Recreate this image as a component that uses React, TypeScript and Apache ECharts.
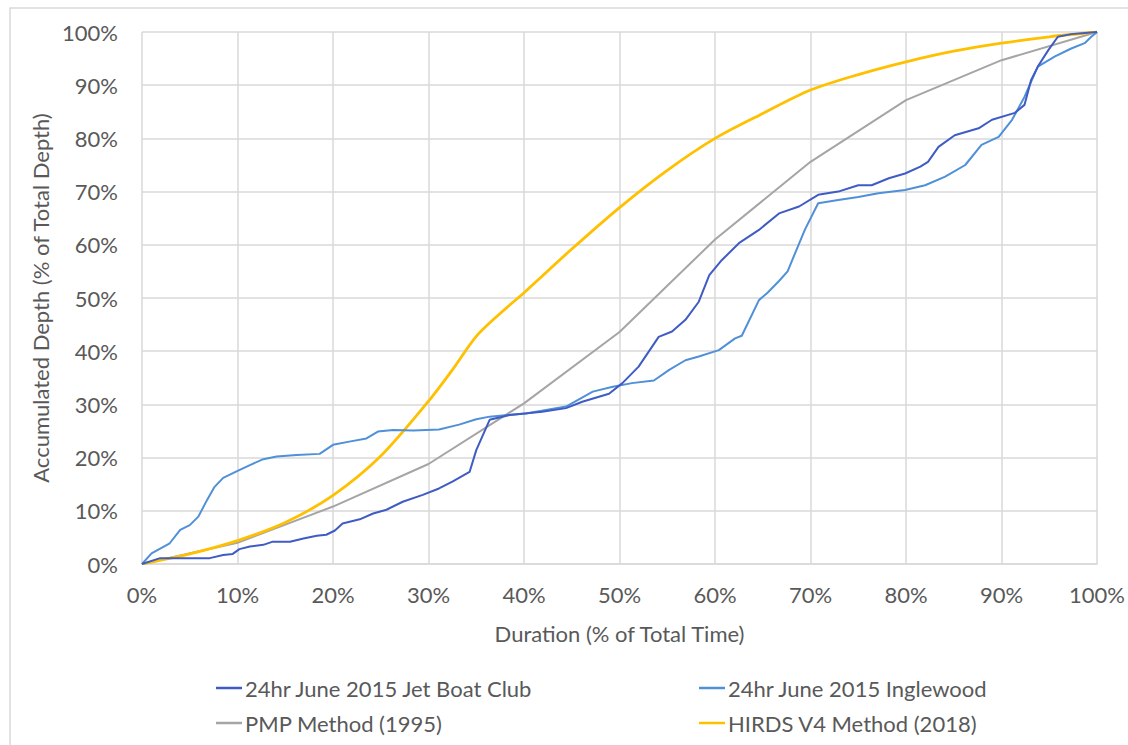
import React, { useEffect, useRef } from "react";
import * as echarts from "echarts";

const xTicks = [0, 10, 20, 30, 40, 50, 60, 70, 80, 90, 100];

const seriesNames = [
  "24hr June 2015 Jet Boat Club",
  "24hr June 2015 Inglewood",
  "PMP Method (1995)",
  "HIRDS V4 Method (2018)",
];

const jetBoatClub: [number, number][] = [
  [0, 0], [1.9, 1.1], [5, 1.1], [7.1, 1.1], [8.5, 1.7], [9.5, 1.9], [10.2, 2.8], [11.3, 3.3],
  [12.7, 3.6], [13.7, 4.2], [15.5, 4.2], [16.9, 4.8], [18.3, 5.3], [19.3, 5.5], [20.2, 6.3],
  [21, 7.6], [22.8, 8.4], [24.2, 9.5], [25.6, 10.2], [27.3, 11.7], [29.4, 13], [31.1, 14.2],
  [32.5, 15.5], [34.3, 17.3], [35, 21.4], [36.4, 27.1], [38.5, 28], [41.9, 28.6], [44.4, 29.3],
  [46.1, 30.5], [48.9, 32], [50.3, 34], [52, 37.1], [54.1, 42.7], [55.5, 43.7], [56.9, 45.9],
  [58.3, 49.3], [59.4, 54.3], [60.7, 57.1], [62.5, 60.3], [64.6, 62.8], [66.7, 65.9],
  [68.8, 67.2], [70.8, 69.4], [72.9, 70], [75, 71.2], [76.4, 71.2], [78.2, 72.5], [79.9, 73.4],
  [81.5, 74.7], [82.3, 75.6], [83.4, 78.4], [85.1, 80.6], [87.6, 81.9], [89, 83.5],
  [91.4, 84.8], [92.4, 86.3], [93.1, 91], [93.8, 93.5], [94.9, 96.6], [95.9, 99.1],
  [97.3, 99.6], [100, 100],
];

const inglewood: [number, number][] = [
  [0, 0], [1, 2], [2.9, 3.9], [4, 6.4], [5, 7.3], [5.9, 8.9], [6.8, 12], [7.6, 14.5],
  [8.5, 16.2], [9.9, 17.4], [11.3, 18.6], [12.7, 19.7], [14.1, 20.2], [16.2, 20.5],
  [18.6, 20.7], [20, 22.4], [21.7, 23], [23.5, 23.6], [24.7, 24.9], [26.3, 25.2],
  [28.4, 25.1], [31.1, 25.3], [33.2, 26.2], [35, 27.2], [36.4, 27.7], [40.2, 28.3],
  [44.4, 29.6], [47.2, 32.4], [49.3, 33.3], [51.3, 34], [53.6, 34.5], [55.2, 36.5],
  [56.9, 38.3], [58.3, 39], [60.4, 40.2], [62.1, 42.4], [62.8, 42.9], [64.6, 49.6],
  [65.5, 51], [66.7, 53.2], [67.6, 55], [68.4, 58.5], [69.4, 62.8], [70.8, 67.8],
  [72.9, 68.4], [75, 69], [77.1, 69.7], [79.9, 70.3], [82, 71.2], [84.1, 72.8], [86.2, 75],
  [87.9, 78.8], [89.7, 80.3], [91.1, 83.5], [92.4, 87.8], [93.8, 93.5], [95.6, 95.4],
  [97.3, 96.9], [98.7, 97.9], [99.4, 99.1], [100, 100],
];

const pmpMethod: [number, number][] = [
  [0, 0], [10, 4], [20, 10.8], [30, 18.8], [40, 30.2], [50, 43.6], [60, 61], [70, 75.6],
  [80, 87.2], [90, 94.7], [100, 100],
];

const hirdsMethod: [number, number][] = [
  [0, 0], [5, 1.9], [10, 4.4], [15, 7.8], [20, 12.9], [25, 20.3], [30, 30.6], [32.5, 36.5],
  [35, 42.8], [37.5, 47.1], [40, 51.0], [45, 59.2], [50, 67], [55, 74], [60, 80],
  [65, 84.7], [70, 89.1], [75, 92], [80, 94.4], [85, 96.4], [90, 97.9], [95, 99.1], [100, 100],
];

const colors = ["#3F5BC4", "#4F90D8", "#A5A5A5", "#FFC000"];

const FONT = "Lato, 'Open Sans', sans-serif";
const TEXT = "#595959";
const GRID = "#D9D9D9";

export default function App() {
  const ref = useRef<HTMLDivElement>(null);

  useEffect(() => {
    document.body.style.margin = "0";
    const chart = echarts.init(ref.current!, undefined, { renderer: "svg" });

    const legendItem = (name: string, left: number, top: number) => ({
      data: [name],
      left,
      top,
      orient: "horizontal",
      icon: "rect",
      itemWidth: 26,
      itemHeight: 2.5,
      selectedMode: false,
      textStyle: { color: TEXT, fontFamily: FONT, fontSize: 22, padding: [0, 0, 0, -2] },
    });

    chart.setOption({
      animation: false,
      backgroundColor: "#ffffff",
      color: colors,
      textStyle: { fontFamily: FONT },
      graphic: [
        {
          type: "rect",
          shape: { x: 10, y: 8, width: 1200, height: 800 },
          style: { fill: "none", stroke: GRID, lineWidth: 1.5 },
          silent: true,
          z: -10,
        },
      ],
      grid: { left: 142, right: 29, top: 32, bottom: 181, containLabel: false },
      legend: [
        legendItem(seriesNames[0], 211, 672),
        legendItem(seriesNames[1], 694, 672),
        legendItem(seriesNames[2], 211, 707),
        legendItem(seriesNames[3], 694, 707),
      ],
      xAxis: {
        type: "value",
        min: 0,
        max: 100,
        interval: 10,
        name: "Duration (% of Total Time)",
        nameLocation: "middle",
        nameGap: 58,
        nameTextStyle: { color: TEXT, fontFamily: FONT, fontSize: 22 },
        axisLine: { show: true, lineStyle: { color: GRID, width: 1.5 } },
        axisTick: { show: false },
        axisLabel: {
          color: TEXT,
          fontFamily: FONT,
          fontSize: 22,
          margin: 19,
          formatter: (v: number) => `${v}%`,
          customValues: xTicks,
        },
        splitLine: { show: true, lineStyle: { color: GRID, width: 1.5 } },
      },
      yAxis: {
        type: "value",
        min: 0,
        max: 100,
        interval: 10,
        name: "Accumulated Depth (% of Total Depth)",
        nameLocation: "middle",
        nameGap: 86,
        nameTextStyle: { color: TEXT, fontFamily: FONT, fontSize: 22 },
        axisLine: { show: false },
        axisTick: { show: false },
        axisLabel: {
          color: TEXT,
          fontFamily: FONT,
          fontSize: 22,
          margin: 24,
          formatter: (v: number) => `${v}%`,
        },
        splitLine: { show: true, lineStyle: { color: GRID, width: 1.5 } },
      },
      series: [
        {
          name: seriesNames[2],
          type: "line",
          data: pmpMethod,
          showSymbol: false,
          symbol: "none",
          lineStyle: { color: colors[2], width: 2 },
          itemStyle: { color: colors[2] },
          z: 2,
        },
        {
          name: seriesNames[3],
          type: "line",
          data: hirdsMethod,
          smooth: 0.3,
          showSymbol: false,
          symbol: "none",
          lineStyle: { color: colors[3], width: 2.8 },
          itemStyle: { color: colors[3] },
          z: 3,
        },
        {
          name: seriesNames[1],
          type: "line",
          data: inglewood,
          showSymbol: false,
          symbol: "none",
          lineStyle: { color: colors[1], width: 2 },
          itemStyle: { color: colors[1] },
          z: 4,
        },
        {
          name: seriesNames[0],
          type: "line",
          data: jetBoatClub,
          showSymbol: false,
          symbol: "none",
          lineStyle: { color: colors[0], width: 2 },
          itemStyle: { color: colors[0] },
          z: 5,
        },
      ],
    });

    return () => chart.dispose();
  }, []);

  return (
    <div
      ref={ref}
      style={{ position: "absolute", left: 0, top: 0, width: 1128, height: 745 }}
    />
  );
}
